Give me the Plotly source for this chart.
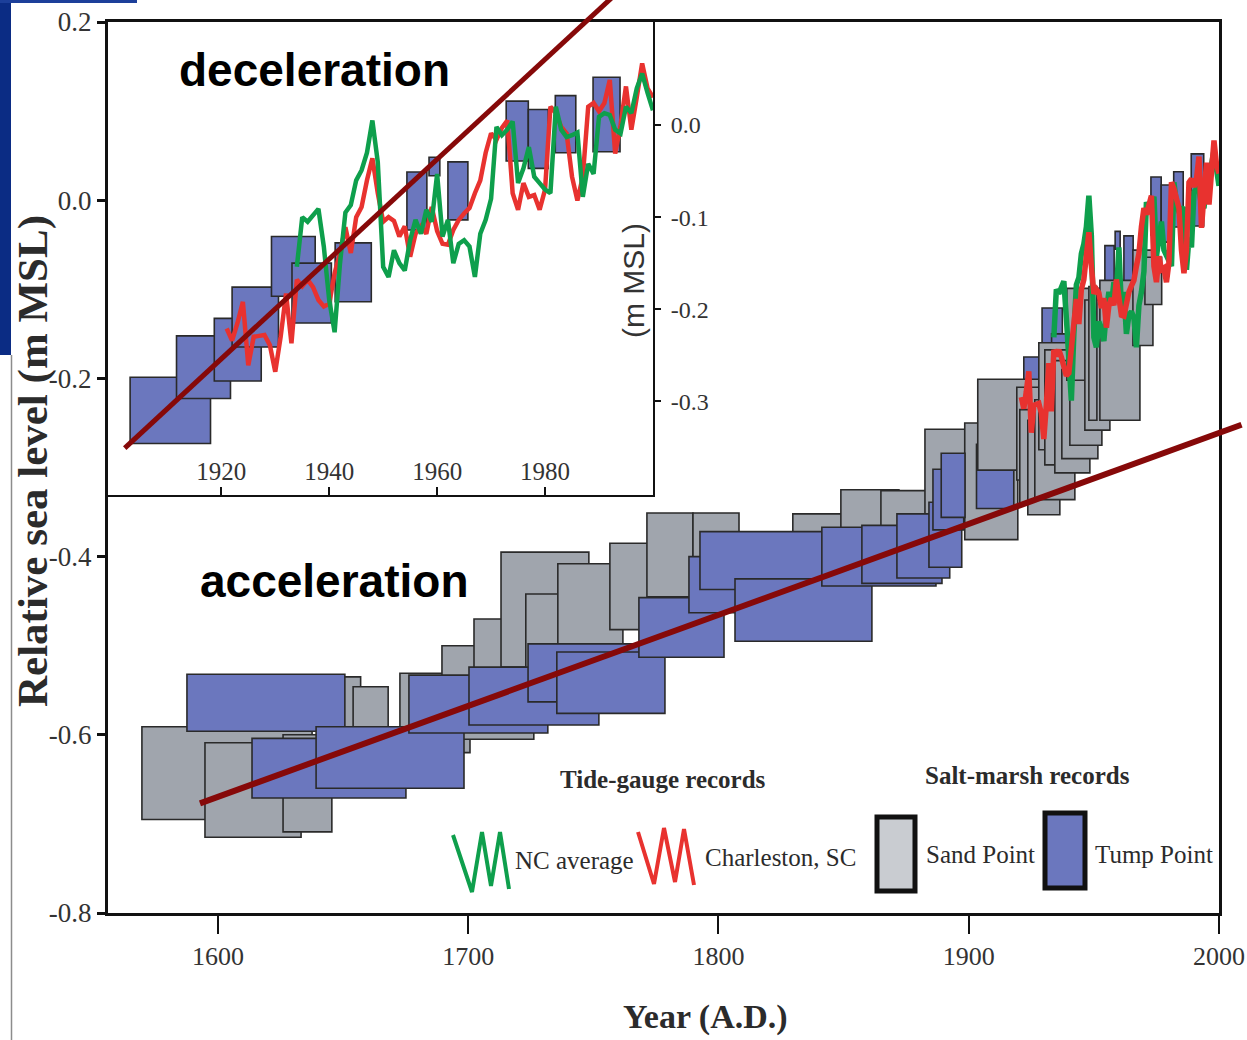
import plotly.graph_objects as go

# ---------------- Salt-marsh reconstructions (boxes: age range x sea-level range, m MSL)
sand_start = [1569.6, 1594.8, 1626.0, 1647.0, 1654.0, 1672.7, 1689.5, 1702.3, 1713.1, 1723.0,
              1735.8, 1756.6, 1771.4, 1789.8, 1829.7, 1848.9, 1864.9, 1882.5, 1898.4]
sand_end = [1637.6, 1633.2, 1645.5, 1657.0, 1668.0, 1700.7, 1726.2, 1741.8, 1748.2, 1753.4,
            1761.8, 1778.6, 1789.8, 1808.2, 1851.3, 1872.1, 1882.9, 1904.4, 1919.6]
sand_low = [-0.695, -0.715, -0.709, -0.620, -0.600, -0.620, -0.605, -0.560, -0.524, -0.540,
            -0.505, -0.482, -0.445, -0.415, -0.404, -0.400, -0.400, -0.359, -0.381]
sand_high = [-0.591, -0.609, -0.600, -0.535, -0.546, -0.531, -0.500, -0.470, -0.395, -0.442,
             -0.408, -0.385, -0.351, -0.351, -0.352, -0.325, -0.326, -0.257, -0.250]

# younger Sand Point samples (drawn over the Tump Point boxes)
sand2_start = [1903.6, 1919.2, 1920.4, 1923.6, 1926.4, 1928.0, 1930.4, 1934.4, 1937.2, 1940.4,
               1939.2, 1946.4, 1948.0, 1952.4, 1965.6, 1970.4]
sand2_end = [1931.2, 1932.4, 1932.4, 1936.4, 1942.4, 1940.0, 1944.4, 1948.4, 1951.6, 1953.2,
             1960.4, 1956.4, 1951.2, 1968.4, 1973.6, 1977.1]
sand2_low = [-0.303, -0.314, -0.342, -0.353, -0.336, -0.280, -0.297, -0.306, -0.290, -0.275,
             -0.202, -0.258, -0.247, -0.247, -0.163, -0.117]
sand2_high = [-0.201, -0.210, -0.235, -0.247, -0.224, -0.160, -0.168, -0.180, -0.190, -0.146,
              -0.099, -0.112, -0.097, -0.090, -0.056, -0.064]

tump_start = [1587.6, 1613.6, 1639.2, 1676.3, 1700.3, 1723.9, 1735.4, 1768.2, 1788.2, 1792.6,
              1806.6, 1841.3, 1857.3, 1871.3, 1884.1, 1885.7, 1889.0,
              1903.1, 1911.7, 1918.7, 1922.0, 1929.3, 1933.1, 1941.1, 1954.4, 1958.5, 1962.0,
              1972.8, 1976.9, 1981.9, 1988.9]
tump_end = [1650.7, 1675.1, 1698.3, 1731.8, 1752.2, 1769.8, 1778.6, 1802.2, 1816.9, 1845.3,
            1861.3, 1886.9, 1889.3, 1892.4, 1897.2, 1898.0, 1898.5,
            1918.0, 1921.7, 1927.4, 1930.6, 1937.4, 1940.4, 1947.8, 1958.1, 1960.5, 1965.7,
            1976.9, 1980.6, 1985.7, 1993.9]
tump_low = [-0.596, -0.671, -0.660, -0.598, -0.589, -0.563, -0.576, -0.513, -0.463, -0.437,
            -0.495, -0.433, -0.430, -0.424, -0.412, -0.370, -0.356,
            -0.346, -0.297, -0.278, -0.241, -0.186, -0.215, -0.192, -0.114, -0.055, -0.103,
            -0.039, -0.047, -0.030, -0.029]
tump_high = [-0.532, -0.604, -0.591, -0.533, -0.524, -0.498, -0.507, -0.446, -0.400, -0.372,
             -0.425, -0.367, -0.365, -0.352, -0.339, -0.302, -0.284,
             -0.274, -0.229, -0.210, -0.176, -0.121, -0.150, -0.128, -0.051, -0.035, -0.040,
             0.026, 0.017, 0.032, 0.052]

# ---------------- Tide-gauge annual means (m MSL)
nc_years = list(range(1934, 2001))
nc_level = [-0.154, -0.100, -0.105, -0.098, -0.091, -0.132, -0.190, -0.225, -0.150, -0.095,
            -0.087, -0.060, -0.049, -0.030, 0.005, -0.040, -0.154, -0.165, -0.136, -0.150,
            -0.158, -0.125, -0.103, -0.118, -0.092, -0.105, -0.053, -0.121, -0.103, -0.150,
            -0.129, -0.125, -0.132, -0.165, -0.118, -0.103, -0.080, -0.002, -0.011, -0.005,
            0.004, -0.063, -0.047, -0.024, -0.056, -0.063, -0.070, -0.074, 0.020, -0.005,
            -0.013, -0.011, -0.008, -0.078, -0.042, -0.053, 0.009, 0.013, 0.011, -0.005,
            -0.009, 0.020, 0.013, 0.040, 0.056, 0.035, 0.016]

chs_years = list(range(1921, 2001))
chs_level = [-0.221, -0.234, -0.215, -0.192, -0.261, -0.230, -0.229, -0.228, -0.239, -0.268,
             -0.230, -0.183, -0.237, -0.168, -0.175, -0.168, -0.176, -0.190, -0.197, -0.194,
             -0.161, -0.139, -0.111, -0.139, -0.100, -0.089, -0.060, -0.036, -0.074, -0.105,
             -0.100, -0.104, -0.121, -0.110, -0.143, -0.118, -0.110, -0.118, -0.089, -0.115,
             -0.129, -0.130, -0.114, -0.103, -0.096, -0.090, -0.074, -0.060, -0.030, -0.009,
             -0.016, -0.003, 0.005, -0.074, -0.092, -0.063, -0.078, -0.076, -0.092, -0.070,
             0.020, 0.013, -0.002, -0.009, -0.056, -0.082, -0.056, 0.020, 0.024, 0.015,
             0.024, 0.049, -0.031, 0.000, 0.042, -0.005, 0.030, 0.067, 0.040, 0.030]

# ---------------- Hand-drawn trend guides (year, m MSL)
accel_years = [1592.8, 2009.0]
accel_level = [-0.677, -0.252]
decel_years = [1902.1, 1992.3]
decel_level = [-0.351, 0.138]

# tick labels
main_xticks = [1600, 1700, 1800, 1900, 2000]
main_yticks = [-0.8, -0.6, -0.4, -0.2, 0.0, 0.2]
main_ytext = ["-0.8", "-0.6", "-0.4", "-0.2", "0.0", "0.2"]
inset_xticks = [1920, 1940, 1960, 1980]
inset_yticks = [-0.3, -0.2, -0.1, 0.0]
inset_ytext = ["-0.3", "-0.2", "-0.1", "0.0"]

# ---------------- styling
SERIF = "Liberation Serif, Times New Roman, serif"
SANS = "Liberation Sans, Arial, sans-serif"
TUMP_FILL = "#6b77be"
SAND_FILL = "#a0a5ad"
SAND_KEY_FILL = "#c9ccd1"
EDGE = "#2a2a2a"
GREEN = "#0e9f4c"
RED = "#e8322f"
TREND = "#860909"
TEXT = "#2b2b2b"

W, H = 1247, 1040
ML, MR, MT, MB = 108, 28, 22, 127
PW, PH = W - ML - MR, H - MT - MB

MAIN_X = [1556.05, 2000.0]
MAIN_Y = [-0.8, 0.2]
INSET_X = [1899.0, 2000.0]
INSET_Y = [-0.402, 0.112]
INSET_DX = [0.0, 0.4905]
INSET_DY = [0.469, 1.0]


def pp(px, py):
    """layout pixel -> paper fraction"""
    return (px - ML) / PW, (H - MB - py) / PH


def main_to_paper(x, y):
    return ((x - MAIN_X[0]) / (MAIN_X[1] - MAIN_X[0]),
            (y - MAIN_Y[0]) / (MAIN_Y[1] - MAIN_Y[0]))


def inset_to_paper(x, y):
    fx = (x - INSET_X[0]) / (INSET_X[1] - INSET_X[0])
    fy = (y - INSET_Y[0]) / (INSET_Y[1] - INSET_Y[0])
    return (INSET_DX[0] + fx * (INSET_DX[1] - INSET_DX[0]),
            INSET_DY[0] + fy * (INSET_DY[1] - INSET_DY[0]))


fig = go.Figure()
shapes = []


def add_boxes(x0s, x1s, lows, highs, fill, xref, yref):
    for a, b, lo, hi in zip(x0s, x1s, lows, highs):
        shapes.append(dict(type="rect", xref=xref, yref=yref, x0=a, x1=b, y0=lo, y1=hi,
                           fillcolor=fill, line=dict(color=EDGE, width=1.6), layer="below"))


# main panel boxes
add_boxes(sand_start, sand_end, sand_low, sand_high, SAND_FILL, "x", "y")
add_boxes(tump_start, tump_end, tump_low, tump_high, TUMP_FILL, "x", "y")
add_boxes(sand2_start, sand2_end, sand2_low, sand2_high, SAND_FILL, "x", "y")
# inset boxes (Tump Point only)
add_boxes(tump_start, tump_end, tump_low, tump_high, TUMP_FILL, "x2", "y2")

# tide-gauge curves, main panel
fig.add_trace(go.Scatter(x=nc_years, y=nc_level, mode="lines", xaxis="x", yaxis="y",
                         line=dict(color=GREEN, width=5.5), showlegend=False, hoverinfo="skip"))
fig.add_trace(go.Scatter(x=chs_years, y=chs_level, mode="lines", xaxis="x", yaxis="y",
                         line=dict(color=RED, width=5.5), showlegend=False, hoverinfo="skip"))
# tide-gauge curves, inset
fig.add_trace(go.Scatter(x=chs_years, y=chs_level, mode="lines", xaxis="x2", yaxis="y2",
                         line=dict(color=RED, width=4.5), showlegend=False, hoverinfo="skip"))
fig.add_trace(go.Scatter(x=nc_years, y=nc_level, mode="lines", xaxis="x2", yaxis="y2",
                         line=dict(color=GREEN, width=4.5), showlegend=False, hoverinfo="skip"))

# trend guides (drawn across panel borders, so placed in paper space)
ax0, ay0 = main_to_paper(accel_years[0], accel_level[0])
ax1, ay1 = main_to_paper(accel_years[1], accel_level[1])
shapes.append(dict(type="line", xref="paper", yref="paper", x0=ax0, y0=ay0, x1=ax1, y1=ay1,
                   line=dict(color=TREND, width=6), layer="above"))
dx0, dy0 = inset_to_paper(decel_years[0], decel_level[0])
dx1, dy1 = inset_to_paper(decel_years[1], decel_level[1])
shapes.append(dict(type="line", xref="paper", yref="paper", x0=dx0, y0=dy0, x1=dx1, y1=dy1,
                   line=dict(color=TREND, width=5), layer="above"))


# ---------------- key
def zigzag(points):
    coords = [pp(x, y) for x, y in points]
    return "M " + " L ".join(f"{x:.5f},{y:.5f}" for x, y in coords)


shapes.append(dict(type="path", xref="paper", yref="paper",
                   path=zigzag([(453, 835), (472, 892), (482, 832), (491, 886), (500, 832), (509, 889)]),
                   line=dict(color=GREEN, width=4), layer="above"))
shapes.append(dict(type="path", xref="paper", yref="paper",
                   path=zigzag([(638, 832), (654, 884), (664, 828), (675, 882), (684, 829), (694, 885)]),
                   line=dict(color=RED, width=4), layer="above"))
for (l, t, r, b), fill in [((877, 817, 915, 891), SAND_KEY_FILL), ((1045, 813, 1085, 888), TUMP_FILL)]:
    x0, y0 = pp(l, b)
    x1, y1 = pp(r, t)
    shapes.append(dict(type="rect", xref="paper", yref="paper", x0=x0, y0=y0, x1=x1, y1=y1,
                       fillcolor=fill, line=dict(color="#111111", width=5), layer="above"))

# decoration at the left page edge
for (l, t, r, b), col in [((0, 0, 11, 355), "#0b2c84"), ((0, 0, 137, 3), "#1c3f9a")]:
    x0, y0 = pp(l, b)
    x1, y1 = pp(r, t)
    shapes.append(dict(type="rect", xref="paper", yref="paper", x0=x0, y0=y0, x1=x1, y1=y1,
                       fillcolor=col, line=dict(width=0), layer="above"))
gx, gy0 = pp(11.5, 355)
_, gy1 = pp(11.5, 1040)
shapes.append(dict(type="line", xref="paper", yref="paper", x0=gx, x1=gx, y0=gy0, y1=gy1,
                   line=dict(color="#8c8c8c", width=1.5), layer="above"))

annotations = []


def label(px, py, text, size, family=SERIF, anchor="center", angle=0, color=TEXT):
    x, y = pp(px, py)
    annotations.append(dict(x=x, y=y, xref="paper", yref="paper", text=text, showarrow=False,
                            xanchor=anchor, yanchor="middle", textangle=angle,
                            font=dict(family=family, size=size, color=color)))


label(314, 70, "<b>deceleration</b>", 46, SANS, color="#000000")
label(334, 581, "<b>acceleration</b>", 46, SANS, color="#000000")
label(633, 281, "(m MSL)", 30, SANS, angle=-90, color="#333333")
label(33, 461, "<b>Relative sea level (m MSL)</b>", 43, angle=-90)
label(705, 1017, "<b>Year (A.D.)</b>", 34)
label(663, 779, "<b>Tide-gauge records</b>", 25)
label(1027, 775, "<b>Salt-marsh records</b>", 25)
label(513, 860, "NC average", 25, anchor="left")
label(703, 857, "Charleston, SC", 25, anchor="left")
label(924, 854, "Sand Point", 25, anchor="left")
label(1093, 854, "Tump Point", 25, anchor="left")

axis_common = dict(showgrid=False, zeroline=False, showline=True, linecolor="#111111",
                   tickcolor="#111111", mirror=True, automargin=False)

fig.update_layout(
    width=W, height=H,
    margin=dict(l=ML, r=MR, t=MT, b=MB, pad=0, autoexpand=False),
    paper_bgcolor="white", plot_bgcolor="white",
    showlegend=False,
    shapes=shapes,
    annotations=annotations,
    xaxis=dict(domain=[0, 1], range=MAIN_X, tickvals=main_xticks,
               ticktext=[str(v) for v in main_xticks], ticks="outside", ticklen=18, tickwidth=2,
               linewidth=3, tickfont=dict(family=SERIF, size=26, color="#333333"), **axis_common),
    yaxis=dict(domain=[0, 1], range=MAIN_Y, tickvals=main_yticks, ticktext=main_ytext,
               ticks="outside", ticklen=8, tickwidth=3, linewidth=3,
               tickfont=dict(family=SERIF, size=27, color="#333333"), **axis_common),
    xaxis2=dict(domain=INSET_DX, range=INSET_X, anchor="y2", tickvals=inset_xticks,
                ticktext=[str(v) for v in inset_xticks], ticks="inside", ticklen=8, tickwidth=2,
                ticklabelposition="inside", ticklabelstandoff=4, linewidth=2,
                tickfont=dict(family=SERIF, size=25, color="#333333"), **axis_common),
    yaxis2=dict(domain=INSET_DY, range=INSET_Y, anchor="x2", side="right",
                tickvals=inset_yticks, ticktext=inset_ytext, ticks="outside", ticklen=6,
                tickwidth=2, linewidth=2, ticklabelstandoff=5,
                tickfont=dict(family=SERIF, size=24, color="#333333"), **axis_common),
)

fig.write_html("out.html")
